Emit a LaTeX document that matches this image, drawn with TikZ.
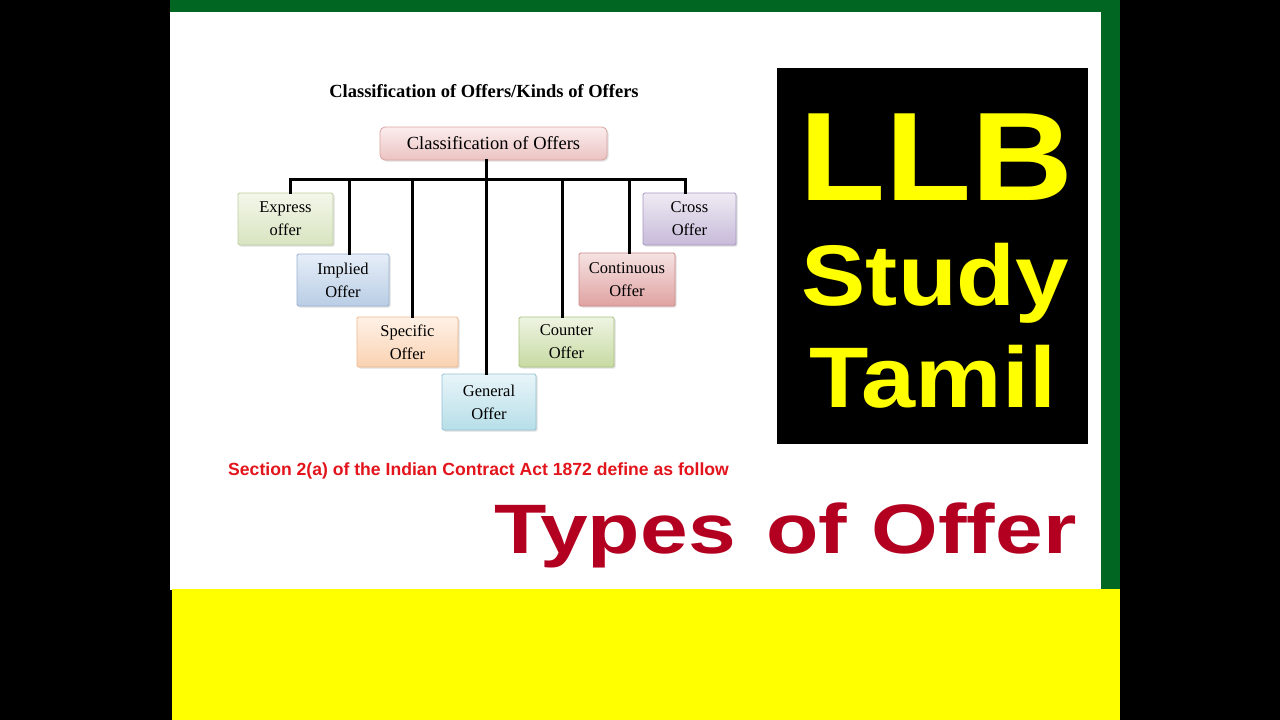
\documentclass[tikz,border=0pt]{standalone}
\usepackage{fontspec}
\usepackage{graphicx}
\setmainfont{Liberation Serif}
\newfontfamily\arialf{Liberation Sans}
\usetikzlibrary{shadows}
\definecolor{frgreen}{HTML}{006622}
\definecolor{ylw}{HTML}{FFFF00}
\definecolor{dkred}{HTML}{B30021}
\definecolor{secred}{HTML}{E3141C}
% box colours (light, dark, border)
\definecolor{rootA}{HTML}{FBEDED}\definecolor{rootB}{HTML}{EBC3C2}\definecolor{rootC}{HTML}{D9A3A1}
\definecolor{expA}{HTML}{F3F7EA}\definecolor{expB}{HTML}{D8E4C0}\definecolor{expC}{HTML}{C0CFA3}
\definecolor{impA}{HTML}{E6EEF8}\definecolor{impB}{HTML}{B9CDE5}\definecolor{impC}{HTML}{98B0D0}
\definecolor{speA}{HTML}{FEF1E6}\definecolor{speB}{HTML}{FAD2B2}\definecolor{speC}{HTML}{F0B98E}
\definecolor{genA}{HTML}{E8F5F9}\definecolor{genB}{HTML}{B7DEE8}\definecolor{genC}{HTML}{93C2D2}
\definecolor{couA}{HTML}{EEF4E2}\definecolor{couB}{HTML}{C7DAA2}\definecolor{couC}{HTML}{A9C27E}
\definecolor{conA}{HTML}{F6E2E2}\definecolor{conB}{HTML}{DFA3A2}\definecolor{conC}{HTML}{CC8A88}
\definecolor{croA}{HTML}{EFEBF4}\definecolor{croB}{HTML}{C7BAD9}\definecolor{croC}{HTML}{A797C0}
\tikzset{
  obox/.style n args={3}{draw=#3, line width=0.8pt, align=center, inner sep=2pt,
    top color=#1, bottom color=#2,
    font=\fontsize{16.5}{23}\selectfont, rounded corners=1.5pt,
    drop shadow={opacity=0.25, shadow xshift=1.5pt, shadow yshift=-1.5pt}},
  conn/.style={line width=3pt, line cap=rect},
  bigtxt/.style={anchor=base, inner sep=0, text=ylw},
}
\begin{document}
\begin{tikzpicture}[x=1pt,y=-1pt]
\useasboundingbox (0,0) rectangle (1280,720);
\fill[black] (0,0) rectangle (1280,720);
\fill[white] (170,0) rectangle (1120,590);
\fill[frgreen] (170,0) rectangle (1120,12);
\fill[frgreen] (1101,0) rectangle (1120,589);
\fill[ylw] (172,589) rectangle (1120,720);

% title
\node[anchor=base, font=\bfseries\fontsize{18.5}{20}\selectfont, inner sep=0] (title) at (484,97) {Classification of Offers/Kinds of Offers};

% root
\node[draw=rootC, line width=0.8pt, rounded corners=5pt, top color=rootA, bottom color=rootB,
  minimum width=227pt, minimum height=33pt, font=\fontsize{18.5}{20}\selectfont,
  drop shadow={opacity=0.25, shadow xshift=1.5pt, shadow yshift=-1.5pt}] (root) at (493.5,143.5) {Classification of Offers};

% boxes
\node[obox={expA}{expB}{expC}, minimum width=95pt, minimum height=52pt] (express) at (285.5,219) {Express\\offer};
\node[obox={impA}{impB}{impC}, minimum width=92pt, minimum height=52pt] (implied) at (343,280) {Implied\\Offer};
\node[obox={speA}{speB}{speC}, minimum width=101pt, minimum height=50pt] (specific) at (407.5,342) {Specific\\Offer};
\node[obox={genA}{genB}{genC}, minimum width=94pt, minimum height=56pt] (general) at (489,402) {General\\Offer};
\node[obox={couA}{couB}{couC}, minimum width=95pt, minimum height=50pt] (counter) at (566.5,342) {Counter\\Offer};
\node[obox={conA}{conB}{conC}, minimum width=96pt, minimum height=53pt] (continuous) at (627,279.5) {Continuous\\Offer};
\node[obox={croA}{croB}{croC}, minimum width=93pt, minimum height=52pt] (cross) at (689.5,219) {Cross\\Offer};

% connectors
\coordinate (b1) at (290,179);
\coordinate (b2) at (349,179);
\coordinate (b3) at (412,179);
\coordinate (b4) at (486,179);
\coordinate (b5) at (562,179);
\coordinate (b6) at (629,179);
\coordinate (b7) at (685,179);
\draw[conn] (b1) -- (b7);
\draw[conn] (b4 |- root.south) -- (b4 |- general.north);
\draw[conn] (b1) -- (b1 |- express.north);
\draw[conn] (b2) -- (b2 |- implied.north);
\draw[conn] (b3) -- (b3 |- specific.north);
\draw[conn] (b5) -- (b5 |- counter.north);
\draw[conn] (b6) -- (b6 |- continuous.north);
\draw[conn] (b7) -- (b7 |- cross.north);

% section text
\node[anchor=base west, inner sep=0, text=secred, font=\arialf\bfseries\fontsize{17.6}{20}\selectfont] (section) at (228,475) {Section 2(a) of the Indian Contract Act 1872 define as follow};

% black box
\fill[black] (777,68) rectangle (1088,444);
\node[bigtxt, font=\arialf\bfseries\fontsize{126}{140}\selectfont] (llb) at (936.5,200) {\scalebox{1.12}[1]{LLB}};
\node[bigtxt, font=\arialf\bfseries\fontsize{86}{95}\selectfont] (study) at (935.5,305) {\scalebox{1.12}[1]{Study}};
\node[bigtxt, font=\arialf\bfseries\fontsize{86}{95}\selectfont] (tamil) at (933,407) {\scalebox{1.13}[1]{Tamil}};

% types of offer
\node[anchor=base west, inner sep=0, text=dkred, font=\arialf\bfseries\fontsize{70}{80}\selectfont] (types) at (494,553) {\scalebox{1.225}[1]{Types\hspace{25pt}of\hspace{20pt}Offer}};
\end{tikzpicture}
\end{document}
